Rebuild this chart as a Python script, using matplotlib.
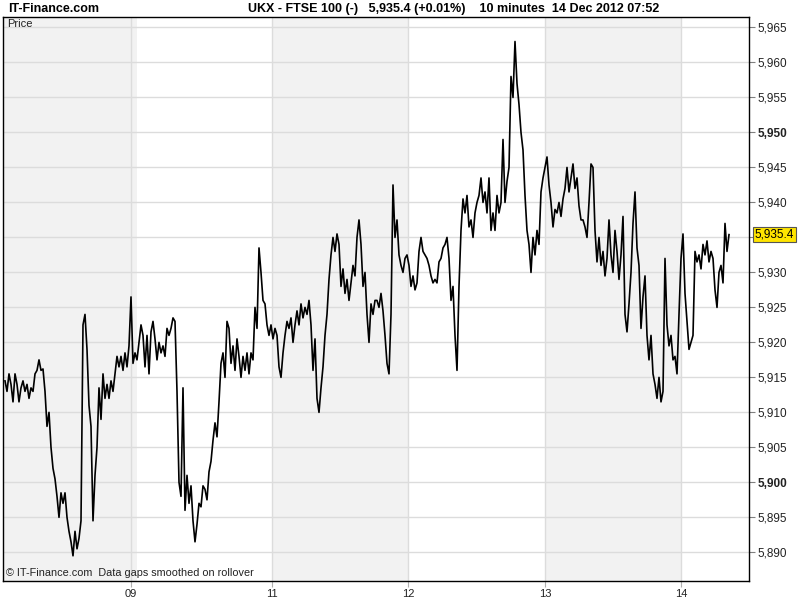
import matplotlib
matplotlib.use("Agg")
import matplotlib.pyplot as plt
import numpy as np

# FTSE 100, 10-minute closes (one value per bar)
close = [
    # 07/09 Dec
    5914.5, 5913.0, 5915.5, 5914.0, 5911.5, 5915.5, 5914.0, 5911.5, 5913.5, 5914.5,
    5913.0, 5914.0, 5912.0, 5913.5, 5913.0, 5915.5, 5916.0, 5917.5, 5916.0, 5916.2,
    5913.0, 5908.0, 5910.0, 5905.0, 5902.0, 5900.5, 5898.0, 5895.0, 5898.5, 5897.0,
    5898.5, 5895.0, 5893.0, 5891.5, 5889.5, 5893.0, 5890.5, 5892.0, 5894.5, 5922.5,
    5924.0, 5919.0, 5911.0, 5908.0, 5894.5, 5901.0, 5905.0, 5913.5, 5909.0, 5915.5,
    5912.0, 5914.0, 5912.0, 5914.5, 5913.0, 5915.5, 5918.0, 5916.5, 5918.0, 5916.0,
    5918.5,
    5916.5, 5919.5, 5926.5, 5917.0, 5918.5, 5917.5, 5920.0, 5922.5, 5921.0, 5916.5,
    # 10 Dec
    5921.0, 5915.5, 5921.5, 5923.0, 5920.5, 5917.5, 5920.0, 5918.5, 5919.5, 5918.0,
    5922.0, 5921.0, 5922.0, 5923.5, 5923.0, 5913.0, 5900.0, 5898.0, 5913.5, 5896.0,
    5901.0, 5897.0, 5899.5, 5894.5, 5891.5, 5894.0, 5897.0, 5896.5, 5899.5, 5899.0,
    5897.5, 5901.5, 5903.0, 5906.0, 5908.5, 5906.5, 5911.5, 5917.0, 5918.5, 5915.0,
    5923.0, 5922.0, 5917.0, 5919.5, 5916.0, 5920.5, 5918.0, 5915.0, 5918.0, 5916.0,
    5918.5, 5915.5,
    # 11 Dec
    5918.5, 5917.5, 5925.0, 5922.0, 5933.5, 5930.0, 5926.0, 5925.5, 5922.5, 5921.0,
    5922.5, 5920.5, 5922.0, 5921.0, 5916.5, 5915.0, 5918.5, 5921.0, 5923.0, 5922.0,
    5923.5, 5920.0, 5922.5, 5924.5, 5922.5, 5925.5, 5923.5, 5925.0, 5924.0, 5926.0,
    5922.5, 5916.0, 5920.5, 5912.0, 5910.0, 5913.5, 5916.5, 5921.0, 5924.0, 5929.0,
    5932.5, 5935.0, 5933.0, 5935.5, 5934.0, 5928.0, 5930.5, 5927.0, 5929.0, 5926.0,
    5928.5, 5931.0, 5929.5, 5935.0, 5937.5, 5934.0, 5928.0, 5930.0, 5924.0, 5920.0,
    5925.5, 5924.0, 5926.0,
    # 12 Dec
    5926.0, 5925.0, 5927.0, 5924.5, 5921.0, 5917.0, 5915.5, 5924.0, 5942.5, 5935.0,
    5937.5, 5932.5, 5931.0, 5930.0, 5932.0, 5932.5, 5931.0, 5928.0, 5929.5, 5927.5,
    5928.5, 5933.0, 5935.0, 5933.0, 5932.5, 5932.0, 5931.0, 5929.5, 5928.5, 5929.0,
    5928.5, 5931.5, 5932.0, 5933.5, 5934.0, 5935.0, 5932.0, 5926.0, 5928.0, 5921.0,
    5916.0, 5928.0, 5936.0, 5940.5, 5938.5, 5941.0, 5936.5, 5937.5, 5935.0, 5938.5,
    5940.0, 5941.0, 5943.5, 5940.0, 5941.5, 5938.5, 5943.5, 5936.0, 5938.5, 5936.0,
    5941.0, 5938.5, 5940.0,
    5949.0, 5940.0, 5943.0, 5945.0, 5958.0, 5955.0, 5963.0, 5957.0, 5954.0, 5950.0,
    5947.5, 5941.0, 5936.0, 5934.0, 5930.0, 5935.0, 5932.5, 5936.0, 5934.0, 5941.5,
    5943.5, 5945.0,
    # 13 Dec
    5946.5, 5942.5, 5940.0, 5936.5, 5939.0, 5938.5, 5940.0, 5938.0, 5940.5, 5942.0,
    5945.0, 5941.5, 5943.5, 5945.5, 5942.0, 5943.5, 5939.5, 5937.5, 5937.5, 5936.5,
    5935.0, 5940.0, 5945.5, 5945.0, 5936.0, 5931.5, 5935.0, 5931.0, 5933.0, 5929.5,
    5932.0, 5937.5, 5932.5, 5930.0, 5936.0, 5933.0, 5929.0, 5932.5, 5938.0, 5924.0,
    5921.5,
    5925.5, 5930.0, 5937.0, 5941.5, 5933.5, 5931.0, 5922.0, 5926.5, 5929.5, 5921.0,
    5917.5, 5921.0, 5915.5, 5914.0, 5912.0, 5915.0, 5911.5, 5913.0, 5932.0, 5922.5,
    5919.5, 5921.0, 5917.5, 5918.0, 5915.5, 5924.0, 5932.0, 5935.5,
    # 14 Dec
    5927.0, 5923.0, 5919.0, 5920.0, 5921.0, 5933.0, 5931.5, 5932.5, 5930.5, 5934.0,
    5932.5, 5934.5, 5931.5, 5933.0, 5932.0, 5927.5, 5925.0, 5930.0, 5931.0, 5928.5,
    5937.0, 5933.0, 5935.4,
]

day_ticks = [63, 133.5, 201.5, 270, 338]
day_labels = ['09', '11', '12', '13', '14']
shaded_days = [(-1, 66), (133.5, 201.5), (270, 338)]
y_ticks = list(range(5890, 5966, 5))
bold_ticks = [5900, 5950]
last_price = 5935.4

plt.rcParams['font.family'] = ['Liberation Sans', 'DejaVu Sans']

fig = plt.figure(figsize=(8, 6), dpi=100)
ax = fig.add_axes([3 / 800, 1 - 581 / 600, 746 / 800, 564 / 600])

x = np.arange(len(close))

# alternating day bands
for a, b in shaded_days:
    ax.axvspan(a, b, color='#f2f2f2', lw=0, zorder=0)

ax.plot(x, close, color='black', lw=1.2, zorder=3)

ax.set_xlim(-1, 372)
ax.set_ylim(5885.9, 5966.5)

# right hand price axis
ax.yaxis.tick_right()
ax.set_yticks(y_ticks)
ax.set_yticklabels(['' if v == 5935 else f'{v:,}' for v in y_ticks])
for lab, v in zip(ax.get_yticklabels(), y_ticks):
    if v in bold_ticks:
        lab.set_fontweight('bold')
ax.tick_params(axis='y', length=4, width=0.8, color='#808080', pad=2,
               labelsize=8.5, labelcolor='#222222')

ax.set_xticks(day_ticks)
ax.set_xticklabels(day_labels)
ax.tick_params(axis='x', length=4, width=0.8, color='#b0b0b0', pad=1.5,
               labelsize=8, labelcolor='#222222')

ax.grid(True, color='#dcdcdc', lw=1.0, zorder=1)
ax.set_axisbelow(True)

for sp in ax.spines.values():
    sp.set_color('black')
    sp.set_linewidth(1.0)

# last price box
ax.text(1.0075, last_price, f'{last_price:,.1f}', transform=ax.get_yaxis_transform(),
        ha='left', va='center', fontsize=8.5, color='black',
        bbox=dict(boxstyle='square,pad=0.15', facecolor='#ffe400', edgecolor='#555555', lw=0.8),
        zorder=10, clip_on=False)

ax.text(0.005, 0.997, 'Price', transform=ax.transAxes, ha='left', va='top',
        fontsize=8, color='#222222')
ax.text(0.004, 0.006, '\u00a9 IT-Finance.com  Data gaps smoothed on rollover',
        transform=ax.transAxes, ha='left', va='bottom', fontsize=7.8, color='#222222')

fig.text(8 / 800, 1 - 9 / 600, 'IT-Finance.com', ha='left', va='center',
         fontsize=9, fontweight='bold')
fig.text(248 / 800, 1 - 9 / 600,
         'UKX - FTSE 100 (-)   5,935.4 (+0.01%)    10 minutes  14 Dec 2012 07:52',
         ha='left', va='center', fontsize=9, fontweight='bold')

fig.savefig('out.png', dpi=100)
